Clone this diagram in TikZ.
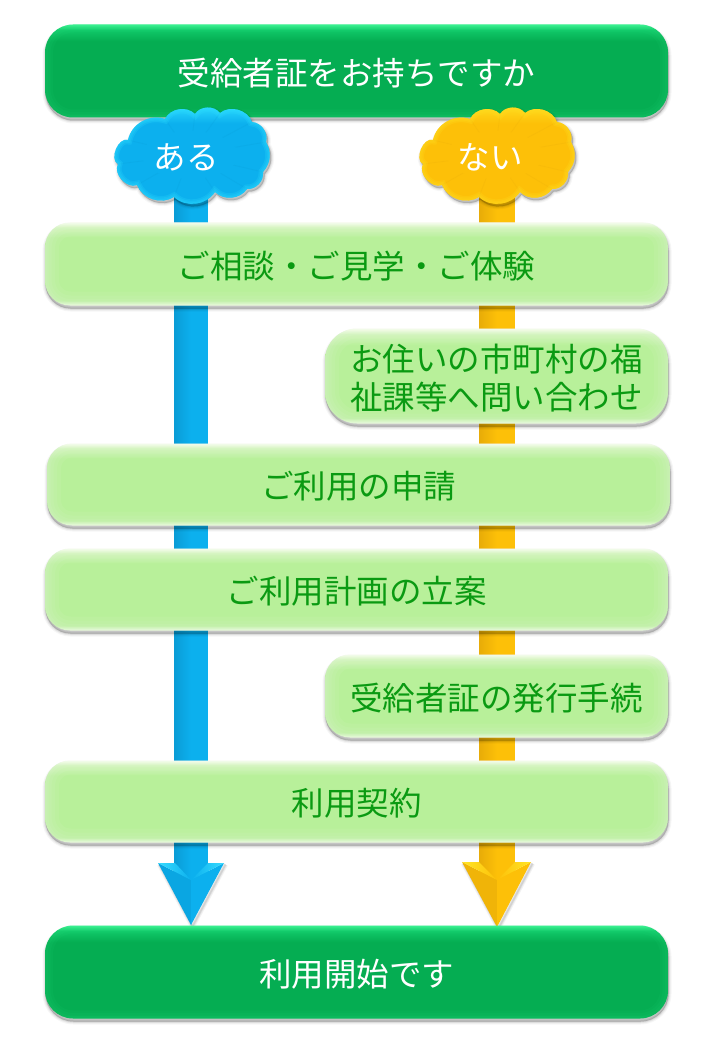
\documentclass[tikz,border=0pt]{standalone}
\usepackage{fontspec}
\setmainfont{Noto Sans CJK JP}
\usetikzlibrary{shadows,calc}
\definecolor{barB}{HTML}{07B65A}\definecolor{barM}{HTML}{05AD52}\definecolor{barH}{HTML}{10C868}\definecolor{barT}{HTML}{3CF292}
\definecolor{ltB}{HTML}{E4FAD6}\definecolor{ltM}{HTML}{B8F09A}\definecolor{ltH}{HTML}{CDF4B4}\definecolor{ltT}{HTML}{F4FCE8}
\definecolor{blM}{HTML}{0CB0EE}\definecolor{blT}{HTML}{2CDCFF}\definecolor{blD}{HTML}{0A9CD6}\definecolor{blF}{HTML}{0AA6E2}\definecolor{blL}{HTML}{38DCFF}
\definecolor{orM}{HTML}{FDC008}\definecolor{orT}{HTML}{FFDD20}\definecolor{orD}{HTML}{E8AC08}\definecolor{orF}{HTML}{F0B408}\definecolor{orL}{HTML}{FFE628}
\definecolor{txtgreen}{HTML}{0A9A12}
\pgfdeclareverticalshading{darkbar}{100bp}{color(0bp)=(barB);color(25bp)=(barB);color(27bp)=(barM);color(66bp)=(barM);color(72bp)=(barH);color(75bp)=(barT);color(100bp)=(barT)}
\pgfdeclareverticalshading{lightbar}{100bp}{color(0bp)=(ltB);color(25bp)=(ltB);color(28bp)=(ltM);color(66bp)=(ltM);color(72bp)=(ltH);color(75bp)=(ltT);color(100bp)=(ltT)}
\pgfdeclareverticalshading{bluecloud}{100bp}{color(0bp)=(blM);color(25bp)=(blM);color(66bp)=(blM);color(75bp)=(blT);color(100bp)=(blT)}
\pgfdeclareverticalshading{orangecloud}{100bp}{color(0bp)=(orM);color(25bp)=(orM);color(66bp)=(orM);color(75bp)=(orT);color(100bp)=(orT)}
\newcommand{\lowtxt}[1]{\raisebox{-2pt}[\height][\depth]{#1}}
\tikzset{
  softshadow/.style={
    copy shadow={shadow xshift=0.5pt,shadow yshift=-3pt,draw=black,fill=black,opacity=.035,line width=6pt},
    copy shadow={shadow xshift=0.5pt,shadow yshift=-3pt,draw=black,fill=black,opacity=.04,line width=4pt},
    copy shadow={shadow xshift=0.5pt,shadow yshift=-3pt,draw=black,fill=black,opacity=.05,line width=2.5pt},
    copy shadow={shadow xshift=0.5pt,shadow yshift=-3pt,draw=black,fill=black,opacity=.07,line width=1pt}},
  barbox/.style={softshadow,shading=#1,inner sep=0pt,align=center,font=\fontsize{32.5}{38}\selectfont},
  darkbox/.style={barbox=darkbar,text=white,rounded corners=28pt,
    path picture={\foreach \w in {16,11,6}{\draw[barT,opacity=.05,line width=\w pt,rounded corners=28pt]
      (path picture bounding box.south west) rectangle (path picture bounding box.north east);}}},
  lightbox/.style={barbox=lightbar,text=txtgreen,rounded corners=#1,
    path picture={\foreach \w in {28,20,13,7,3}{\draw[white,opacity=.06,line width=\w pt,rounded corners=#1]
      (path picture bounding box.south west) rectangle (path picture bounding box.north east);}}},
  cloudtext/.style={text=white,inner sep=0pt,font=\fontsize{32.5}{36}\selectfont},
  shaftblue/.style={draw=blM,line width=34pt},
  shaftorange/.style={draw=orM,line width=36pt},
}
\def\cloudshape{(128,140) to[bend left=48] (165,119) to[bend left=55] (195,114) to[bend left=55] (220,113)
  to[bend left=55] (252,122) to[bend left=50] (266,142) to[bend left=36] (263,172) to[bend left=50] (247,189)
  to[bend left=50] (215,192) to[bend left=50] (174,197) to[bend left=50] (137,185) to[bend left=70] (118,164)
  to[bend left=85] (128,140) -- cycle}
\begin{document}
\begin{tikzpicture}[x=1pt,y=-1pt]
\useasboundingbox (0,0) rectangle (720,1040);
\fill[white] (0,0) rectangle (720,1040);
% head / anchor coordinates
\coordinate (aruHead) at (191,880);
\coordinate (naiHead) at (497,880);
\coordinate (aruL) at (158,863);\coordinate (aruR) at (224,863);\coordinate (aruTip) at (191,925);
\coordinate (naiL) at (462,862);\coordinate (naiR) at (531,862);\coordinate (naiTip) at (497,927);
% arrows
\draw[shaftblue] (191,190) coordinate (aruTop) -- (aruHead);
\draw[shaftorange] (497,190) coordinate (naiTop) -- (naiHead);
\shade[left color=blD,right color=blM] (174,190) rectangle (191,880);
\shade[left color=orD,right color=orM] (479,190) rectangle (497,880);
% arrow head shadows
\foreach \w/\op in {5/.05,3/.06,1.5/.08}{
  \draw[black,opacity=\op,line width=\w pt,line join=round] ($(aruR)+(1.5,1.5)$) -- ($(aruTip)+(1.5,1.5)$) -- ($(aruL)+(1.5,1.5)$);
  \draw[black,opacity=\op,line width=\w pt,line join=round] ($(naiR)+(1.5,1.5)$) -- ($(naiTip)+(1.5,1.5)$) -- ($(naiL)+(1.5,1.5)$);
}
% blue head
\fill[blF] (aruL) -- (aruHead) -- (aruTip) -- cycle;
\fill[blM] (aruR) -- (aruHead) -- (aruTip) -- cycle;
\shade[left color=blL,right color=blM] (aruL) -- (175,863) -- (aruHead) -- cycle;
\shade[right color=blL,left color=blM] (aruR) -- (208,863) -- (aruHead) -- cycle;
% orange head
\fill[orF] (naiL) -- (naiHead) -- (naiTip) -- cycle;
\fill[orM] (naiR) -- (naiHead) -- (naiTip) -- cycle;
\shade[left color=orL,right color=orM] (naiL) -- (479,862) -- (naiHead) -- cycle;
\shade[right color=orL,left color=orM] (naiR) -- (515,862) -- (naiHead) -- cycle;
% bars
\node[darkbox,minimum width=623pt,minimum height=93pt] (q) at (356.5,71) {\lowtxt{受給者証をお持ちですか}};
\node[lightbox=25pt,minimum width=623pt,minimum height=83pt] (b1) at (356.5,264) {\lowtxt{ご相談・ご見学・ご体験}};
\node[lightbox=32pt,minimum width=343pt,minimum height=95pt] (b2) at (496.5,376) {\lowtxt{お住いの市町村の福}\\[0pt]\lowtxt{祉課等へ問い合わせ}};
\node[lightbox=25pt,minimum width=623pt,minimum height=82pt] (b3) at (358.5,484.5) {\lowtxt{ご利用の申請}};
\node[lightbox=25pt,minimum width=623pt,minimum height=82pt] (b4) at (356.5,589.5) {\lowtxt{ご利用計画の立案}};
\node[lightbox=25pt,minimum width=343pt,minimum height=83pt] (b5) at (496.5,696) {\lowtxt{受給者証の発行手続}};
\node[lightbox=25pt,minimum width=623pt,minimum height=82pt] (b6) at (356.5,801.5) {\lowtxt{利用契約}};
\node[darkbox,minimum width=623pt,minimum height=93pt] (end) at (356.5,972) {\lowtxt{利用開始です}};
% clouds
\foreach \sx/\shd/\rim/\spk/\mid in {0/bluecloud/blT/blD/blM,305/orangecloud/orT/orD/orM}{
  \begin{scope}[xshift=\sx pt]
    \foreach \lw/\op in {6/.03,4/.04,2.5/.05,1/.07}{
      \draw[black,fill=black,opacity=\op,line width=\lw pt,line join=round,shift={(1.5pt,-2.5pt)}] \cloudshape;}
    \shade[shading=\shd] \cloudshape;
    \begin{scope}
      \clip \cloudshape;
      \foreach \c in {(165,119),(195,114),(220,113),(252,122),(266,142),(263,172),(247,189),(215,192),(174,197),(137,185),(118,164),(128,140)}{
        \draw[\spk,opacity=.22,line width=.8pt] (190,155) -- \c;}
      \foreach \w in {9,6,3}{\draw[\rim,opacity=.22,line width=\w pt] \cloudshape;}
    \end{scope}
    \fill[\mid] (190,155) ellipse (48 and 24);
  \end{scope}
}
\node[cloudtext] (aru) at (186,155) {\lowtxt{ある}};
\node[cloudtext] (nai) at (490,155) {\lowtxt{ない}};
\end{tikzpicture}
\end{document}
